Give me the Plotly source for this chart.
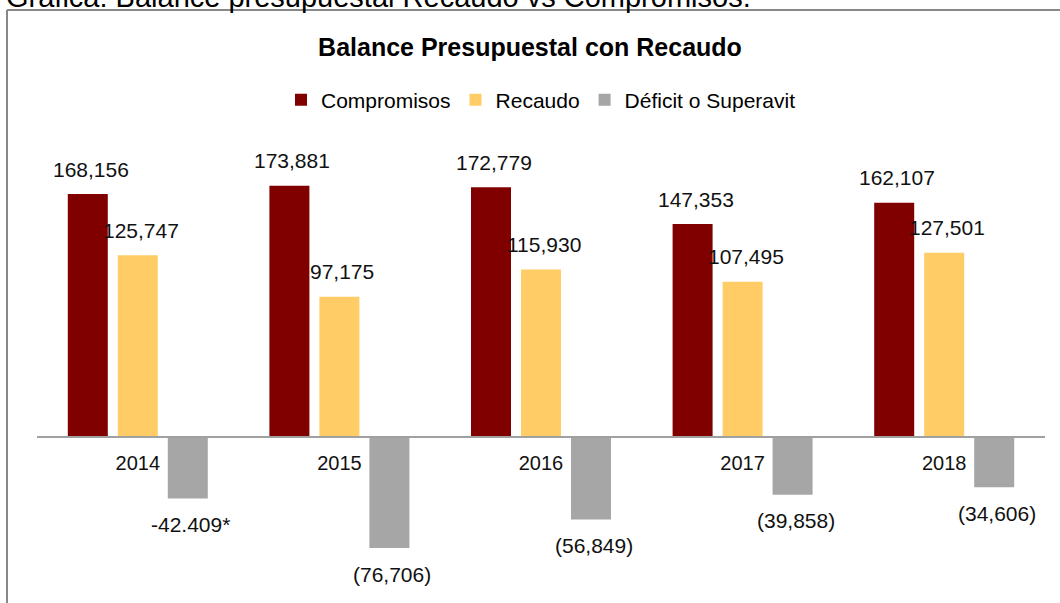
import plotly.graph_objects as go

years = ["2014", "2015", "2016", "2017", "2018"]
compromisos = [168156, 173881, 172779, 147353, 162107]
recaudo = [125747, 97175, 115930, 107495, 127501]
deficit = [-42409, -76706, -56849, -39858, -34606]

lbl_comp = ["168,156", "173,881", "172,779", "147,353", "162,107"]
lbl_rec = ["125,747", "97,175", "115,930", "107,495", "127,501"]
lbl_def = ["-42.409*", "(76,706)", "(56,849)", "(39,858)", "(34,606)"]

series_names = ["Compromisos", "Recaudo", "Déficit o Superavit"]
colors = ["#800000", "#FFCC66", "#A6A6A6"]

W, H = 1060, 603
ML, MR, MT, MB = 37, 15, 148, 14
YMIN, YMAX = -105000, 200000
PW, PH = W - ML - MR, H - MT - MB
FONT = "Liberation Sans, Arial, sans-serif"


def px_x(p):
    return (p - ML) / PW


def px_y(p):
    return (H - MB - p) / PH


fig = go.Figure()
for name, vals, col in zip(series_names, [compromisos, recaudo, deficit], colors):
    fig.add_trace(go.Bar(x=years, y=vals, name=name, marker=dict(color=col, line=dict(width=0))))

annotations = []
offsets = [-50, 0, 50]
for k, (vals, labels) in enumerate([(compromisos, lbl_comp), (recaudo, lbl_rec), (deficit, lbl_def)]):
    for i, (v, t) in enumerate(zip(vals, labels)):
        annotations.append(dict(
            x=i, y=v, xref="x", yref="y", text=t, showarrow=False,
            xshift=offsets[k] + 3, yshift=25 if v >= 0 else -26,
            font=dict(family=FONT, size=21, color="#111111"),
            xanchor="center", yanchor="middle"))

annotations.append(dict(
    x=px_x(4), y=px_y(15), xref="paper", yref="paper",
    text="Gráfica: Balance presupuestal Recaudo vs Compromisos.",
    showarrow=False, xanchor="left", yanchor="bottom",
    font=dict(family=FONT, size=29, color="#000000")))

shapes = [
    dict(type="line", xref="paper", yref="paper", x0=px_x(7), x1=px_x(1062),
         y0=px_y(10), y1=px_y(10), line=dict(color="#888888", width=2)),
    dict(type="line", xref="paper", yref="paper", x0=px_x(7), x1=px_x(7),
         y0=px_y(10), y1=px_y(610), line=dict(color="#888888", width=2)),
]

fig.update_layout(
    width=W, height=H,
    margin=dict(l=ML, r=MR, t=MT, b=MB, pad=0),
    paper_bgcolor="white", plot_bgcolor="white",
    barmode="group", bargap=0.256, bargroupgap=0.2,
    title=dict(text="<b>Balance Presupuestal con Recaudo</b>", x=0.5, xanchor="center",
               y=1 - 47 / H, yanchor="middle", yref="container",
               font=dict(family=FONT, size=25, color="#000000")),
    legend=dict(orientation="h", x=0.5, xanchor="center", y=px_y(100), yanchor="middle",
                font=dict(family=FONT, size=21, color="#000000"), traceorder="normal",
                itemwidth=30, bgcolor="rgba(0,0,0,0)"),
    xaxis=dict(type="category", range=[-0.5, 4.5], anchor="free",
               position=(0 - YMIN) / (YMAX - YMIN),
               showline=True, linecolor="#A0A0A0", linewidth=1.5,
               ticks="outside", ticklen=8, tickcolor="rgba(0,0,0,0)",
               tickfont=dict(family=FONT, size=20, color="#111111"),
               showgrid=False, zeroline=False, fixedrange=True),
    yaxis=dict(range=[YMIN, YMAX], visible=False, showgrid=False, zeroline=False),
    annotations=annotations,
    shapes=shapes,
    font=dict(family=FONT),
)

fig.write_html("out.html", config={"displayModeBar": False},
               post_script="document.body.style.margin='0px';")
